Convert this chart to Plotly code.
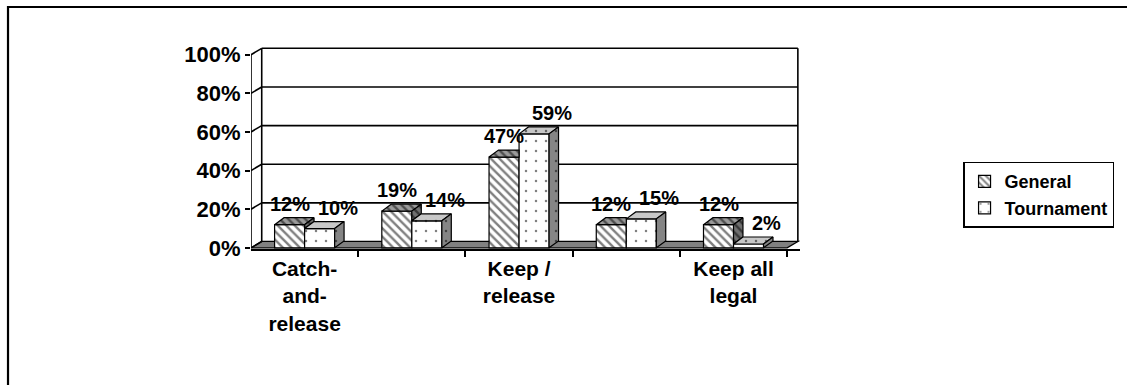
import plotly.graph_objects as go

# ---- data ----
categories = ["Catch-<br>and-<br>release", "", "Keep /<br>release", "", "Keep all<br>legal"]
series_names = ["General", "Tournament"]
general = [12, 19, 47, 12, 12]
tournament = [10, 14, 59, 15, 2]
y_ticks = [0, 20, 40, 60, 80, 100]
y_tick_labels = ["0%", "20%", "40%", "60%", "80%", "100%"]

# ---- styling / geometry ----
FONT = "Arial, 'Liberation Sans', sans-serif"
BAR_GAP = 0.44
BW = (1 - BAR_GAP) / 2          # width of one bar in category units
BDX, BDY = 0.088, 3.6           # bar depth offset (x units, y units)
WDX, WDY = 0.10, 3.3            # back wall / floor depth offset
XMIN, XMAX = -0.5, 4.62
YMIN, YMAX = -0.6, 104.5
n = len(categories)
xs = list(range(n))

hatch_g = dict(shape="\\", fgcolor="black", size=6, solidity=0.4)
dots_t = dict(shape=".", fgcolor="black", size=10, solidity=0.05)

fig = go.Figure()

# front faces (real bars)
fig.add_trace(go.Bar(
    x=xs, y=general, name=series_names[0],
    marker=dict(color="white", line=dict(color="black", width=1.2),
                pattern=dict(**hatch_g, bgcolor="white")),
    hoverinfo="skip"))
fig.add_trace(go.Bar(
    x=xs, y=tournament, name=series_names[1],
    marker=dict(color="white", line=dict(color="black", width=1.2),
                pattern=dict(**dots_t, bgcolor="white")),
    hoverinfo="skip"))


def poly_trace(xl, yl, bg, pat):
    return go.Scatter(x=xl, y=yl, mode="lines", fill="toself",
                      fillcolor=bg,
                      fillpattern=dict(**pat, bgcolor=bg),
                      line=dict(color="black", width=1.2),
                      showlegend=False, hoverinfo="skip")


# 3D faces computed from the data
g_top_x, g_top_y, g_side_x, g_side_y = [], [], [], []
t_top_x, t_top_y, t_side_x, t_side_y = [], [], [], []
for i in range(n):
    c = xs[i]
    vg, vt = general[i], tournament[i]
    L, R = c - BW, c
    if vt > vg:
        g_top_x += [L, R, R, L + BDX, L, None]
        g_top_y += [vg, vg, vg + BDY, vg + BDY, vg, None]
    else:
        g_top_x += [L, R, R + BDX, L + BDX, L, None]
        g_top_y += [vg, vg, vg + BDY, vg + BDY, vg, None]
        if vg > vt:
            g_side_x += [R, R, R + BDX, R + BDX, R, None]
            g_side_y += [vt, vg, vg + BDY, vt + BDY, vt, None]
    L2, R2 = c, c + BW
    t_top_x += [L2, R2, R2 + BDX, L2 + BDX, L2, None]
    t_top_y += [vt, vt, vt + BDY, vt + BDY, vt, None]
    t_side_x += [R2, R2, R2 + BDX, R2 + BDX, R2, None]
    t_side_y += [0, vt, vt + BDY, BDY, 0, None]

fig.add_trace(poly_trace(g_top_x, g_top_y, "#9a9a9a", hatch_g))
if g_side_x:
    fig.add_trace(poly_trace(g_side_x, g_side_y, "#707070", hatch_g))
fig.add_trace(poly_trace(t_top_x, t_top_y, "#c8c8c8", dots_t))
fig.add_trace(poly_trace(t_side_x, t_side_y, "#858585", dots_t))

# ---- wall, floor, gridlines ----
shapes = []
shapes.append(dict(type="path", layer="below",
                   path=f"M {XMIN},0 L 4.5,0 L {4.5 + WDX},{WDY} L {XMIN + WDX},{WDY} Z",
                   fillcolor="#808080", line=dict(color="black", width=1.2)))
for v in y_ticks:
    shapes.append(dict(type="line", layer="below", x0=XMIN, y0=v, x1=XMIN + WDX, y1=v + WDY,
                       line=dict(color="black", width=1.6)))
    if v > 0:
        shapes.append(dict(type="line", layer="below", x0=XMIN + WDX, y0=v + WDY,
                           x1=4.5 + WDX, y1=v + WDY, line=dict(color="black", width=1.6)))
shapes.append(dict(type="line", layer="below", x0=XMIN + WDX, y0=WDY, x1=XMIN + WDX, y1=100 + WDY,
                   line=dict(color="black", width=1.6)))
shapes.append(dict(type="line", layer="below", x0=4.5 + WDX, y0=WDY, x1=4.5 + WDX, y1=100 + WDY,
                   line=dict(color="black", width=1.6)))
shapes.append(dict(type="line", x0=XMIN, y0=0, x1=XMIN, y1=100,
                   line=dict(color="black", width=1.6)))
# outer frame (left and top)
shapes.append(dict(type="path", xref="paper", yref="paper",
                   path="M -0.4426,-0.75 L -0.4426,1.192 L 1.62,1.192",
                   line=dict(color="black", width=2.2)))

# ---- data labels ----
annotations = []
for i in range(n):
    annotations.append(dict(x=xs[i] - BW / 2, y=general[i], text=f"{general[i]}%",
                            showarrow=False, yshift=21, xshift=0,
                            font=dict(family=FONT, size=20, color="black", weight="bold")))
    annotations.append(dict(x=xs[i] + BW / 2, y=tournament[i], text=f"{tournament[i]}%",
                            showarrow=False, yshift=21, xshift=18,
                            font=dict(family=FONT, size=20, color="black", weight="bold")))

fig.update_layout(
    width=1127, height=385,
    margin=dict(l=251, r=327, t=46, b=136),
    paper_bgcolor="white", plot_bgcolor="rgba(0,0,0,0)",
    barmode="group", bargap=BAR_GAP, bargroupgap=0,
    shapes=shapes, annotations=annotations,
    showlegend=True,
    legend=dict(x=1.297, y=0.43, xanchor="left", yanchor="top",
                bordercolor="black", borderwidth=1.5, bgcolor="white",
                font=dict(family=FONT, size=18, color="black", weight="bold"),
                itemwidth=30),
    font=dict(family=FONT, color="black"),
)
fig.update_xaxes(range=[XMIN, XMAX], showgrid=False, zeroline=False,
                 showline=True, linecolor="black", linewidth=1.6,
                 tickmode="array", tickvals=xs, ticktext=categories, ticks="",
                 tickfont=dict(family=FONT, size=21, color="black", weight="bold"),
                 minor=dict(tickmode="array", tickvals=[i + 0.5 for i in xs],
                            ticks="outside", ticklen=6, tickwidth=1.5, tickcolor="black",
                            showgrid=False),
                 fixedrange=True)
fig.update_yaxes(range=[YMIN, YMAX], showgrid=False, zeroline=False, showline=False,
                 tickmode="array", tickvals=y_ticks, ticktext=y_tick_labels,
                 ticks="outside", ticklen=5, tickwidth=1.5, tickcolor="black",
                 tickfont=dict(family=FONT, size=22, color="black", weight="bold"),
                 fixedrange=True)

fig.write_html("out.html")
